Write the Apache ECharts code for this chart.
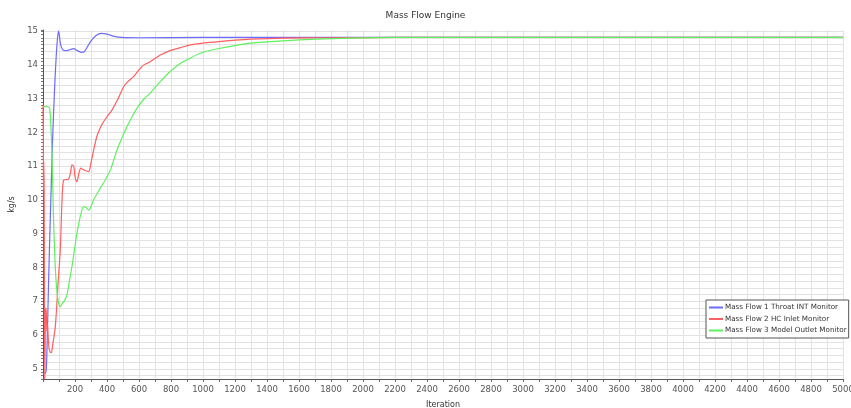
<!DOCTYPE html>
<html>
<head>
<meta charset="utf-8">
<script src="https://cdn.jsdelivr.net/npm/echarts@6/dist/echarts.min.js"></script>
<style>
  html, body { margin: 0; padding: 0; background: #fff; }
  #chart { width: 851px; height: 408px; }
</style>
</head>
<body>
<div id="chart"></div>
<script>
// Mass flow monitors
const seriesNames = ['Mass Flow 1 Throat INT Monitor', 'Mass Flow 2 HC Inlet Monitor', 'Mass Flow 3 Model Outlet Monitor'];

const throatIter = [0, 8, 15, 20, 25, 35, 47, 60, 72, 82, 90, 97, 103, 110, 125, 150, 175, 192, 210, 240, 260, 296, 330, 365, 400, 440, 490, 600, 1000, 5000];
const throatVal = [4.84, 4.86, 4.88, 4.95, 5.6, 7.6, 9.7, 11.8, 13.25, 14.2, 14.75, 15.0, 14.85, 14.6, 14.44, 14.42, 14.46, 14.48, 14.43, 14.37, 14.4, 14.68, 14.86, 14.93, 14.91, 14.85, 14.81, 14.8, 14.81, 14.81];

const inletIter = [0, 2, 3, 5, 7, 9, 11, 13, 16, 20, 24, 28, 33, 38, 45, 52, 60, 77, 95, 108, 119, 129, 145, 160, 172, 181, 192, 200, 212, 225, 237, 250, 264, 285, 300, 336, 370, 400, 431, 470, 504, 530, 566, 600, 629, 670, 733, 795, 860, 921, 1000, 1087, 1200, 1296, 1500, 1800, 2200, 5000];
const inletVal = [12.8, 12.0, 10.3, 11.13, 10.4, 7.0, 4.7, 5.5, 6.8, 6.7, 6.12, 6.32, 5.9, 5.6, 5.5, 5.48, 5.7, 6.25, 7.6, 8.52, 10.0, 10.59, 10.6, 10.62, 10.8, 11.04, 11.0, 10.7, 10.54, 10.8, 10.94, 10.9, 10.87, 10.84, 11.1, 11.87, 12.25, 12.46, 12.66, 13.0, 13.35, 13.5, 13.65, 13.85, 13.99, 14.09, 14.29, 14.42, 14.51, 14.59, 14.64, 14.68, 14.73, 14.76, 14.79, 14.8, 14.81, 14.81];

const outletIter = [0, 20, 35, 42, 48, 56, 66, 75, 85, 97, 108, 120, 135, 150, 165, 181, 196, 212, 235, 254, 270, 285, 300, 316, 358, 390, 421, 440, 462, 490, 525, 555, 587, 630, 671, 733, 795, 858, 920, 983, 1050, 1108, 1200, 1296, 1400, 1500, 1708, 1920, 2200, 5000];
const outletVal = [12.76, 12.76, 12.75, 12.7, 12.3, 11.4, 9.4, 8.2, 7.4, 6.95, 6.84, 6.93, 7.02, 7.2, 7.6, 8.03, 8.5, 9.01, 9.55, 9.8, 9.77, 9.7, 9.8, 10.0, 10.35, 10.6, 10.89, 11.15, 11.48, 11.8, 12.17, 12.45, 12.71, 12.98, 13.17, 13.5, 13.8, 14.04, 14.2, 14.34, 14.43, 14.49, 14.57, 14.64, 14.68, 14.71, 14.76, 14.79, 14.81, 14.81];

const lineColors = ['#6b6bff', '#ff5f5f', '#5ff05f'];

function pairs(xs, ys) {
    return xs.map((x, i) => [x, ys[i]]);
}

const chart = echarts.init(document.getElementById('chart'));
const font = 'DejaVu Sans';

function lineSeries(idx, data, z) {
    return {
        name: seriesNames[idx],
        type: 'line',
        data: data,
        smooth: 0.3,
        showSymbol: false,
        symbol: 'none',
        color: lineColors[idx],
        lineStyle: { width: 1.2, color: lineColors[idx] },
        z: z
    };
}

const option = {
    animation: false,
    backgroundColor: '#fff',
    textStyle: { fontFamily: font },
    title: {
        text: 'Mass Flow Engine',
        left: 'center',
        top: 6,
        textStyle: { fontSize: 9, fontWeight: 'normal', color: '#333', fontFamily: font }
    },
    legend: {
        orient: 'vertical',
        left: 706,
        top: 300,
        icon: 'rect',
        itemWidth: 14,
        itemHeight: 2,
        itemGap: 4.5,
        padding: [4, 2, 4, 3],
        borderColor: '#555',
        borderWidth: 1,
        backgroundColor: '#fff',
        borderRadius: 0,
        textStyle: { fontSize: 7.2, color: '#333', fontFamily: font, padding: [0, 0, 0, -3] },
        data: seriesNames
    },
    grid: { left: 43, right: 8, top: 30, bottom: 29, containLabel: false, outerBoundsMode: 'none' },
    xAxis: {
        type: 'value',
        min: 0,
        max: 5000,
        interval: 100,
        name: 'Iteration',
        nameLocation: 'middle',
        nameGap: 22,
        nameTextStyle: { fontSize: 8, color: '#333' },
        axisLine: { lineStyle: { color: '#555' } },
        axisTick: { length: 3, lineStyle: { color: '#666' } },
        axisLabel: {
            fontSize: 8.5,
            color: '#555',
            margin: 6,
            formatter: v => (v > 0 && v % 200 === 0) ? String(v) : ''
        },
        splitLine: { lineStyle: { color: '#e2e2e2', width: 1 } }
    },
    yAxis: {
        type: 'value',
        min: 4.7,
        max: 15.03,
        interval: 0.1,
        name: 'kg/s',
        nameLocation: 'middle',
        nameGap: 23,
        nameTextStyle: { fontSize: 8, color: '#333' },
        axisLine: { show: true, lineStyle: { color: '#555' } },
        axisTick: { show: true, length: 2, lineStyle: { color: '#777' } },
        axisLabel: {
            fontSize: 8.5,
            color: '#555',
            margin: 5,
            formatter: v => Math.abs(v - Math.round(v)) < 1e-6 ? String(Math.round(v)) : ''
        },
        splitLine: { lineStyle: { color: ['rgba(0,0,0,0)', '#e2e2e2'], width: 1 } }
    },
    series: [
        lineSeries(0, pairs(throatIter, throatVal), 3),
        lineSeries(1, pairs(inletIter, inletVal), 4),
        lineSeries(2, pairs(outletIter, outletVal), 5)
    ]
};

chart.setOption(option);
</script>
</body>
</html>
